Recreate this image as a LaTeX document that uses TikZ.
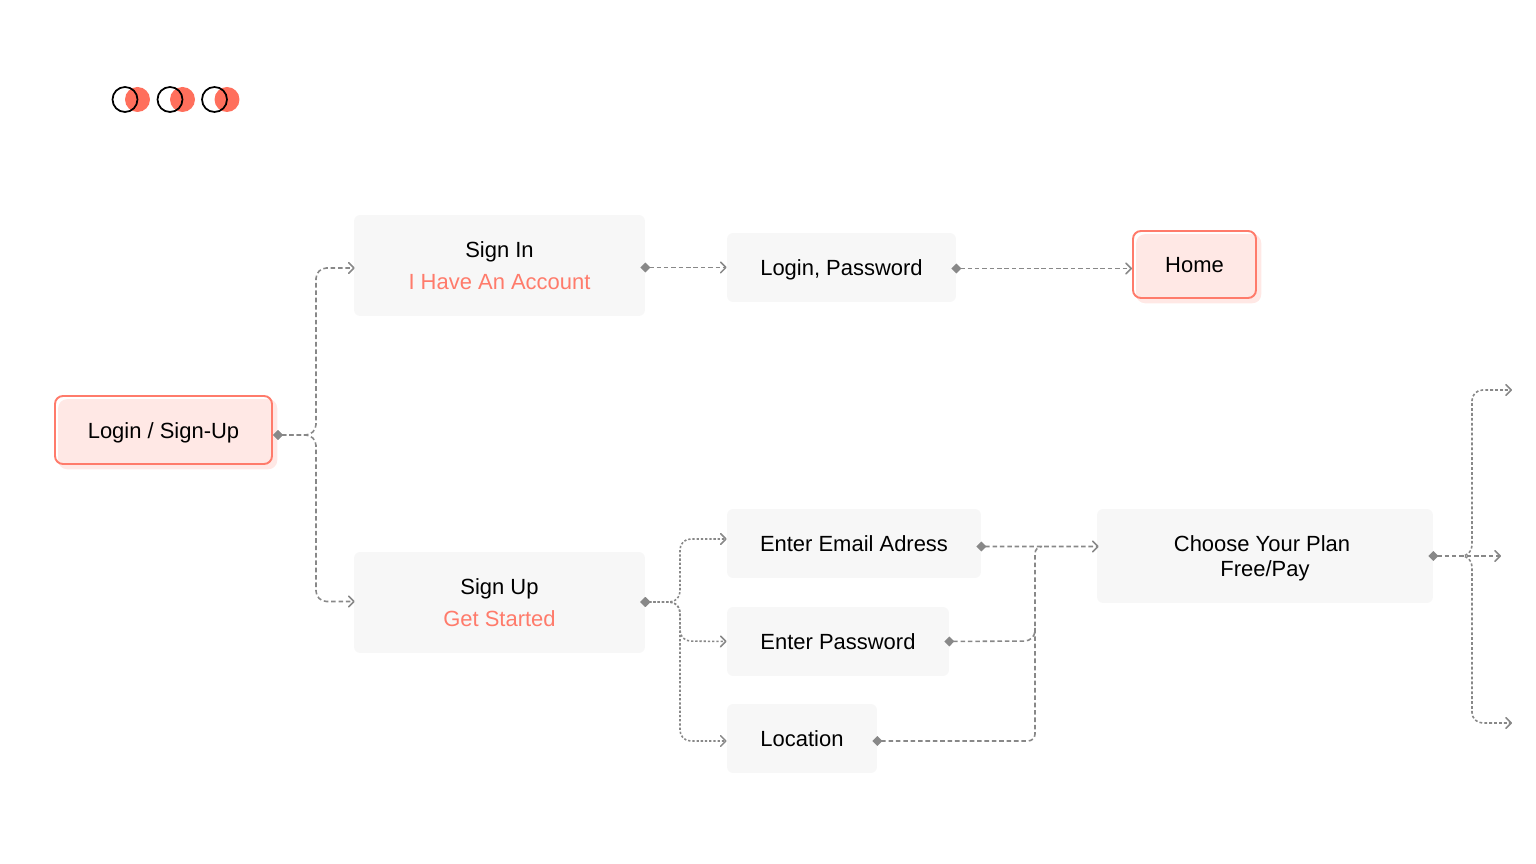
\documentclass[tikz,border=0pt]{standalone}
\usepackage{fontspec}
\setmainfont{Liberation Sans}
\usepackage{xcolor}
\usepackage{tikz}
\usetikzlibrary{arrows.meta, shadows}

\definecolor{coral}{HTML}{FF6F5C}
\definecolor{coralline}{HTML}{FF7B6B}
\definecolor{blush}{HTML}{FFE8E5}
\definecolor{panel}{HTML}{F7F7F7}
\definecolor{wire}{HTML}{888888}

\tikzset{
    portdot/.tip={Diamond[length=5.6pt, width=5.6pt, fill=wire]},
    chevron/.tip={Straight Barb[length=3pt, width=6pt, line width=0.9pt, round]},
    oneline/.style={text height=11.5pt, text depth=2pt},
    panelbox/.style={fill=panel, rounded corners=3.5pt, inner sep=0pt, align=center, text=black,
        font=\fontsize{12.5}{14.2}\selectfont},
    accentbox/.style={draw=coralline, line width=1.1pt, rounded corners=4.5pt, inner sep=0pt, align=center,
        font=\fontsize{12.5}{14.2}\selectfont,
        general shadow={fill=blush, draw=blush, line width=1.2pt, shadow xshift=2.4pt, shadow yshift=-2.4pt}},
    ringdot/.style={draw=black, circle, line width=1pt, inner sep=0pt, minimum size=0.5cm},
    reddot/.style={fill=coral, circle, inner sep=0pt, minimum size=0.5cm},
    flowline/.style={draw=wire, line width=0.9pt, dash pattern=on 2.6pt off 1.6pt, rounded corners=6pt, portdot-chevron},
    branchline/.style={flowline, dash pattern=on 1.3pt off 1.1pt},
    planline/.style={flowline, dash pattern=on 1.6pt off 1.2pt, -chevron},
}

\begin{document}
\begin{tikzpicture}[x=0.02cm, y=-0.02cm]
    \useasboundingbox (0, 0) rectangle (1536, 864);

    \node[reddot] (reda) at (137.5, 99.5) {};
    \node[reddot] (redb) at (182.5, 99.5) {};
    \node[reddot] (redc) at (227, 99.5) {};
    \node[ringdot] (ringa) at (125, 99.5) {};
    \node[ringdot] (ringb) at (170, 99.5) {};
    \node[ringdot] (ringc) at (214.5, 99.5) {};

    \node[accentbox, oneline, minimum width=4.34cm, minimum height=1.36cm] (login) at (163.5, 430) {Login / Sign-Up};
    \node[panelbox, minimum width=5.82cm, minimum height=2.02cm] (signin) at (499.5, 265.5)
        {Sign In\\[4pt]\textcolor{coralline}{I Have An Account}};
    \node[panelbox, minimum width=5.82cm, minimum height=2.02cm] (signup) at (499.5, 602.5)
        {Sign Up\\[4pt]\textcolor{coralline}{Get Started}};
    \node[panelbox, oneline, minimum width=4.58cm, minimum height=1.38cm] (password) at (841.5, 267.5) {Login, Password};
    \node[accentbox, oneline, minimum width=2.46cm, minimum height=1.34cm] (home) at (1194.5, 264.5) {Home};
    \node[panelbox, oneline, minimum width=5.08cm, minimum height=1.38cm] (email) at (854, 543.5) {Enter Email Adress};
    \node[panelbox, oneline, minimum width=4.44cm, minimum height=1.38cm] (secret) at (838, 641.5) {Enter Password};
    \node[panelbox, oneline, minimum width=3cm, minimum height=1.38cm] (location) at (802, 738.5) {Location};
    \node[panelbox, minimum width=6.72cm, minimum height=1.88cm] (plan) at (1265, 556)
        {\rule{0pt}{11.8pt}Choose Your Plan\hspace*{3.4pt}\\Free/Pay};

    \coordinate (planhub) at (1460, 556);
    \coordinate (planup) at (1512, 390);
    \coordinate (planmid) at (1501, 556);
    \coordinate (plandown) at (1512, 723);

    \draw[flowline] ([shift={(0.1, 5)}]login.east) -- (316, 435) -- (316, 268) -- ([shift={(1, 2.5)}]signin.west);
    \draw[flowline] ([shift={(0.1, 5)}]login.east) -- (316, 435) -- (316, 601.5) -- ([shift={(1, -1)}]signup.west);

    \draw[flowline] ([shift={(-4.9, 2)}]signin.east) -- (password.west);
    \draw[flowline] ([shift={(-4.9, 1)}]password.east) -- ([shift={(0, 4)}]home.west);

    \draw[branchline] ([shift={(-4.9, -0.5)}]signup.east) -- (680, 602) -- (680, 539) -- ([shift={(0, -4.5)}]email.west);
    \draw[branchline] ([shift={(-4.9, -0.5)}]signup.east) -- (680, 602) -- (680, 641) -- (secret.west);
    \draw[branchline] ([shift={(-4.9, -0.5)}]signup.east) -- (680, 602) -- (680, 741) -- ([shift={(0, 2.5)}]location.west);

    \draw[flowline] ([shift={(-4.9, 3)}]email.east) -- ([shift={(2, -9.5)}]plan.west);
    \draw[flowline, portdot-] ([shift={(-4.9, 0)}]secret.east) -- (1035, 641) -- (1035, 628);
    \draw[flowline, portdot-, rounded corners=4pt] ([shift={(-4.9, 2.5)}]location.east) -- (1035, 741) -- (1035, 546.5) -- ([shift={(-55, -9.5)}]plan.west);

    \draw[flowline] ([shift={(-4.9, 0)}]plan.east) -- (planmid);
    \draw[planline] (planhub) -- (1472, 556) -- (1472, 390) -- (planup);
    \draw[planline] (planhub) -- (1472, 556) -- (1472, 723) -- (plandown);
\end{tikzpicture}
\end{document}
